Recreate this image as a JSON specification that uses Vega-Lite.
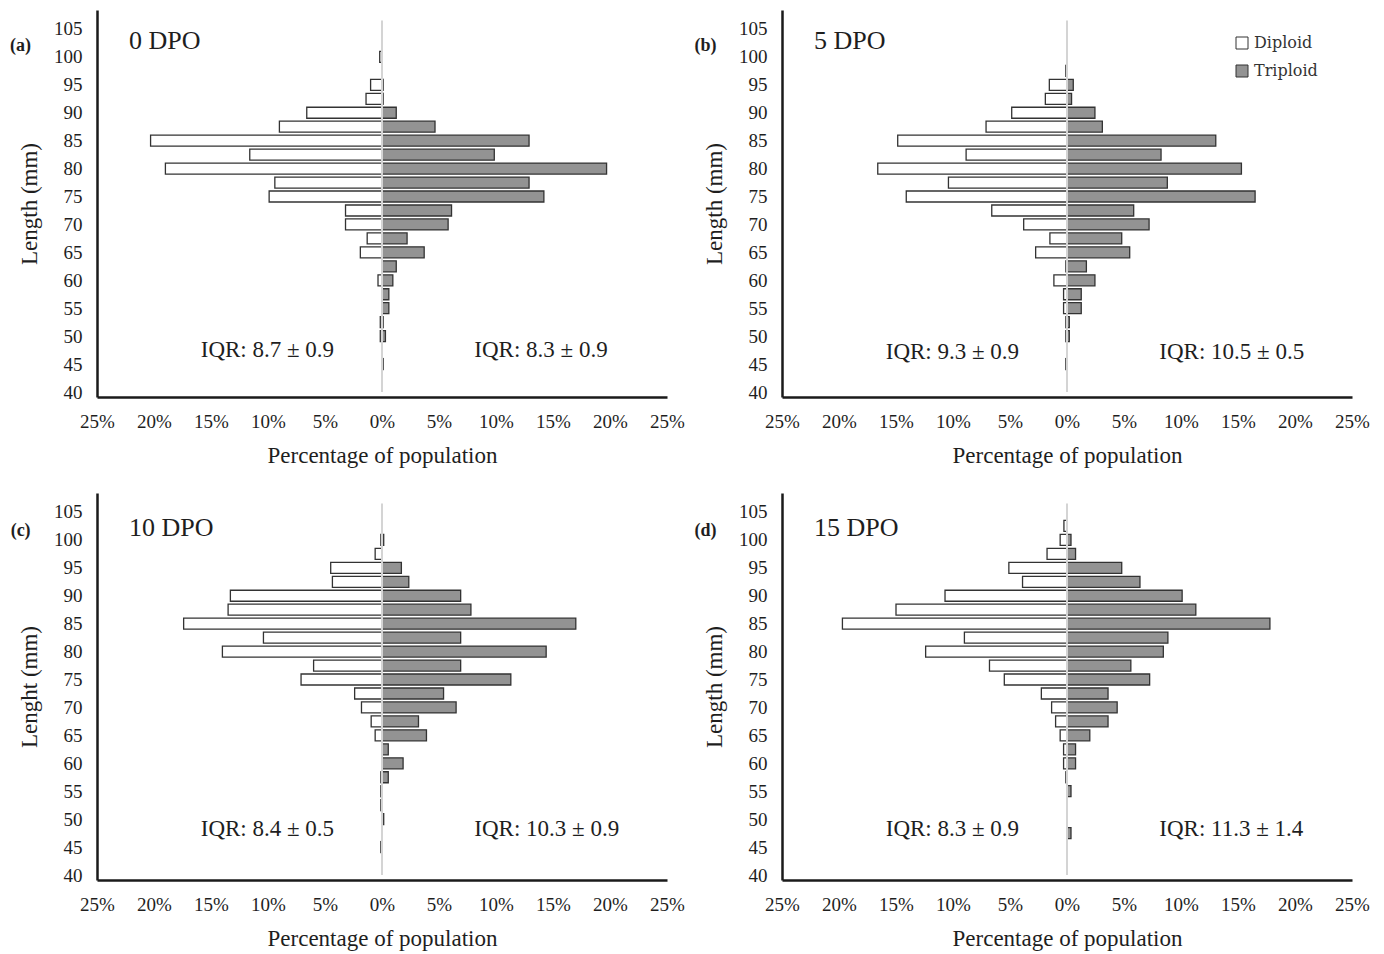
{
  "$schema": "https://vega.github.io/schema/vega-lite/v6.json",
  "background": "white",
  "padding": {"left": 10, "top": 10, "right": 5, "bottom": 5},
  "config": {
    "view": {"stroke": null},
    "font": "Liberation Serif",
    "axis": {
      "labelFont": "Liberation Serif", "labelFontSize": 19, "labelColor": "#1e1e1e",
      "titleFont": "Liberation Serif", "titleFontSize": 23, "titleFontWeight": "normal", "titleColor": "#1e1e1e",
      "domainColor": "#1a1a1a", "domainWidth": 2.5, "ticks": false, "grid": false, "labelFlush": false, "labelOverlap": false
    },
    "text": {"font": "Liberation Serif", "color": "#1e1e1e"}
  },
  "datasets": {
    "bars": [
      {"panel": "0 DPO", "ploidy": "Diploid", "length": 100, "pct": -0.2},
      {"panel": "0 DPO", "ploidy": "Diploid", "length": 95, "pct": -1.0},
      {"panel": "0 DPO", "ploidy": "Diploid", "length": 92.5, "pct": -1.4},
      {"panel": "0 DPO", "ploidy": "Diploid", "length": 90, "pct": -6.6},
      {"panel": "0 DPO", "ploidy": "Diploid", "length": 87.5, "pct": -9.0},
      {"panel": "0 DPO", "ploidy": "Diploid", "length": 85, "pct": -20.3},
      {"panel": "0 DPO", "ploidy": "Diploid", "length": 82.5, "pct": -11.6},
      {"panel": "0 DPO", "ploidy": "Diploid", "length": 80, "pct": -19.0},
      {"panel": "0 DPO", "ploidy": "Diploid", "length": 77.5, "pct": -9.4},
      {"panel": "0 DPO", "ploidy": "Diploid", "length": 75, "pct": -9.9},
      {"panel": "0 DPO", "ploidy": "Diploid", "length": 72.5, "pct": -3.2},
      {"panel": "0 DPO", "ploidy": "Diploid", "length": 70, "pct": -3.2},
      {"panel": "0 DPO", "ploidy": "Diploid", "length": 67.5, "pct": -1.3},
      {"panel": "0 DPO", "ploidy": "Diploid", "length": 65, "pct": -1.9},
      {"panel": "0 DPO", "ploidy": "Diploid", "length": 60, "pct": -0.35},
      {"panel": "0 DPO", "ploidy": "Diploid", "length": 52.5, "pct": -0.15},
      {"panel": "0 DPO", "ploidy": "Diploid", "length": 50, "pct": -0.15},
      {"panel": "0 DPO", "ploidy": "Triploid", "length": 95, "pct": 0.1},
      {"panel": "0 DPO", "ploidy": "Triploid", "length": 92.5, "pct": 0.1},
      {"panel": "0 DPO", "ploidy": "Triploid", "length": 90, "pct": 1.25},
      {"panel": "0 DPO", "ploidy": "Triploid", "length": 87.5, "pct": 4.65},
      {"panel": "0 DPO", "ploidy": "Triploid", "length": 85, "pct": 12.9},
      {"panel": "0 DPO", "ploidy": "Triploid", "length": 82.5, "pct": 9.85},
      {"panel": "0 DPO", "ploidy": "Triploid", "length": 80, "pct": 19.7},
      {"panel": "0 DPO", "ploidy": "Triploid", "length": 77.5, "pct": 12.9},
      {"panel": "0 DPO", "ploidy": "Triploid", "length": 75, "pct": 14.2},
      {"panel": "0 DPO", "ploidy": "Triploid", "length": 72.5, "pct": 6.1},
      {"panel": "0 DPO", "ploidy": "Triploid", "length": 70, "pct": 5.8},
      {"panel": "0 DPO", "ploidy": "Triploid", "length": 67.5, "pct": 2.2},
      {"panel": "0 DPO", "ploidy": "Triploid", "length": 65, "pct": 3.7},
      {"panel": "0 DPO", "ploidy": "Triploid", "length": 62.5, "pct": 1.25},
      {"panel": "0 DPO", "ploidy": "Triploid", "length": 60, "pct": 0.95},
      {"panel": "0 DPO", "ploidy": "Triploid", "length": 57.5, "pct": 0.6},
      {"panel": "0 DPO", "ploidy": "Triploid", "length": 55, "pct": 0.6},
      {"panel": "0 DPO", "ploidy": "Triploid", "length": 52.5, "pct": 0.1},
      {"panel": "0 DPO", "ploidy": "Triploid", "length": 50, "pct": 0.3},
      {"panel": "0 DPO", "ploidy": "Triploid", "length": 45, "pct": 0.1},

      {"panel": "5 DPO", "ploidy": "Diploid", "length": 97.5, "pct": -0.1},
      {"panel": "5 DPO", "ploidy": "Diploid", "length": 95, "pct": -1.55},
      {"panel": "5 DPO", "ploidy": "Diploid", "length": 92.5, "pct": -1.9},
      {"panel": "5 DPO", "ploidy": "Diploid", "length": 90, "pct": -4.85},
      {"panel": "5 DPO", "ploidy": "Diploid", "length": 87.5, "pct": -7.1},
      {"panel": "5 DPO", "ploidy": "Diploid", "length": 85, "pct": -14.85},
      {"panel": "5 DPO", "ploidy": "Diploid", "length": 82.5, "pct": -8.85},
      {"panel": "5 DPO", "ploidy": "Diploid", "length": 80, "pct": -16.6},
      {"panel": "5 DPO", "ploidy": "Diploid", "length": 77.5, "pct": -10.4},
      {"panel": "5 DPO", "ploidy": "Diploid", "length": 75, "pct": -14.1},
      {"panel": "5 DPO", "ploidy": "Diploid", "length": 72.5, "pct": -6.6},
      {"panel": "5 DPO", "ploidy": "Diploid", "length": 70, "pct": -3.8},
      {"panel": "5 DPO", "ploidy": "Diploid", "length": 67.5, "pct": -1.5},
      {"panel": "5 DPO", "ploidy": "Diploid", "length": 65, "pct": -2.75},
      {"panel": "5 DPO", "ploidy": "Diploid", "length": 62.5, "pct": -0.1},
      {"panel": "5 DPO", "ploidy": "Diploid", "length": 60, "pct": -1.15},
      {"panel": "5 DPO", "ploidy": "Diploid", "length": 57.5, "pct": -0.3},
      {"panel": "5 DPO", "ploidy": "Diploid", "length": 55, "pct": -0.3},
      {"panel": "5 DPO", "ploidy": "Diploid", "length": 52.5, "pct": -0.1},
      {"panel": "5 DPO", "ploidy": "Diploid", "length": 50, "pct": -0.1},
      {"panel": "5 DPO", "ploidy": "Diploid", "length": 45, "pct": -0.1},
      {"panel": "5 DPO", "ploidy": "Triploid", "length": 95, "pct": 0.55},
      {"panel": "5 DPO", "ploidy": "Triploid", "length": 92.5, "pct": 0.4},
      {"panel": "5 DPO", "ploidy": "Triploid", "length": 90, "pct": 2.45},
      {"panel": "5 DPO", "ploidy": "Triploid", "length": 87.5, "pct": 3.1},
      {"panel": "5 DPO", "ploidy": "Triploid", "length": 85, "pct": 13.05},
      {"panel": "5 DPO", "ploidy": "Triploid", "length": 82.5, "pct": 8.25},
      {"panel": "5 DPO", "ploidy": "Triploid", "length": 80, "pct": 15.3},
      {"panel": "5 DPO", "ploidy": "Triploid", "length": 77.5, "pct": 8.8},
      {"panel": "5 DPO", "ploidy": "Triploid", "length": 75, "pct": 16.5},
      {"panel": "5 DPO", "ploidy": "Triploid", "length": 72.5, "pct": 5.85},
      {"panel": "5 DPO", "ploidy": "Triploid", "length": 70, "pct": 7.2},
      {"panel": "5 DPO", "ploidy": "Triploid", "length": 67.5, "pct": 4.8},
      {"panel": "5 DPO", "ploidy": "Triploid", "length": 65, "pct": 5.5},
      {"panel": "5 DPO", "ploidy": "Triploid", "length": 62.5, "pct": 1.7},
      {"panel": "5 DPO", "ploidy": "Triploid", "length": 60, "pct": 2.45},
      {"panel": "5 DPO", "ploidy": "Triploid", "length": 57.5, "pct": 1.25},
      {"panel": "5 DPO", "ploidy": "Triploid", "length": 55, "pct": 1.25},
      {"panel": "5 DPO", "ploidy": "Triploid", "length": 52.5, "pct": 0.2},
      {"panel": "5 DPO", "ploidy": "Triploid", "length": 50, "pct": 0.2},

      {"panel": "10 DPO", "ploidy": "Diploid", "length": 100, "pct": -0.1},
      {"panel": "10 DPO", "ploidy": "Diploid", "length": 97.5, "pct": -0.6},
      {"panel": "10 DPO", "ploidy": "Diploid", "length": 95, "pct": -4.5},
      {"panel": "10 DPO", "ploidy": "Diploid", "length": 92.5, "pct": -4.35},
      {"panel": "10 DPO", "ploidy": "Diploid", "length": 90, "pct": -13.3},
      {"panel": "10 DPO", "ploidy": "Diploid", "length": 87.5, "pct": -13.5},
      {"panel": "10 DPO", "ploidy": "Diploid", "length": 85, "pct": -17.4},
      {"panel": "10 DPO", "ploidy": "Diploid", "length": 82.5, "pct": -10.4},
      {"panel": "10 DPO", "ploidy": "Diploid", "length": 80, "pct": -14.0},
      {"panel": "10 DPO", "ploidy": "Diploid", "length": 77.5, "pct": -6.0},
      {"panel": "10 DPO", "ploidy": "Diploid", "length": 75, "pct": -7.1},
      {"panel": "10 DPO", "ploidy": "Diploid", "length": 72.5, "pct": -2.4},
      {"panel": "10 DPO", "ploidy": "Diploid", "length": 70, "pct": -1.8},
      {"panel": "10 DPO", "ploidy": "Diploid", "length": 67.5, "pct": -0.95},
      {"panel": "10 DPO", "ploidy": "Diploid", "length": 65, "pct": -0.6},
      {"panel": "10 DPO", "ploidy": "Diploid", "length": 57.5, "pct": -0.1},
      {"panel": "10 DPO", "ploidy": "Diploid", "length": 55, "pct": -0.1},
      {"panel": "10 DPO", "ploidy": "Diploid", "length": 52.5, "pct": -0.1},
      {"panel": "10 DPO", "ploidy": "Diploid", "length": 45, "pct": -0.1},
      {"panel": "10 DPO", "ploidy": "Triploid", "length": 100, "pct": 0.15},
      {"panel": "10 DPO", "ploidy": "Triploid", "length": 95, "pct": 1.7},
      {"panel": "10 DPO", "ploidy": "Triploid", "length": 92.5, "pct": 2.35},
      {"panel": "10 DPO", "ploidy": "Triploid", "length": 90, "pct": 6.9},
      {"panel": "10 DPO", "ploidy": "Triploid", "length": 87.5, "pct": 7.8},
      {"panel": "10 DPO", "ploidy": "Triploid", "length": 85, "pct": 17.0},
      {"panel": "10 DPO", "ploidy": "Triploid", "length": 82.5, "pct": 6.9},
      {"panel": "10 DPO", "ploidy": "Triploid", "length": 80, "pct": 14.4},
      {"panel": "10 DPO", "ploidy": "Triploid", "length": 77.5, "pct": 6.9},
      {"panel": "10 DPO", "ploidy": "Triploid", "length": 75, "pct": 11.3},
      {"panel": "10 DPO", "ploidy": "Triploid", "length": 72.5, "pct": 5.4},
      {"panel": "10 DPO", "ploidy": "Triploid", "length": 70, "pct": 6.5},
      {"panel": "10 DPO", "ploidy": "Triploid", "length": 67.5, "pct": 3.2},
      {"panel": "10 DPO", "ploidy": "Triploid", "length": 65, "pct": 3.9},
      {"panel": "10 DPO", "ploidy": "Triploid", "length": 62.5, "pct": 0.55},
      {"panel": "10 DPO", "ploidy": "Triploid", "length": 60, "pct": 1.85},
      {"panel": "10 DPO", "ploidy": "Triploid", "length": 57.5, "pct": 0.55},
      {"panel": "10 DPO", "ploidy": "Triploid", "length": 50, "pct": 0.15},

      {"panel": "15 DPO", "ploidy": "Diploid", "length": 102.5, "pct": -0.27},
      {"panel": "15 DPO", "ploidy": "Diploid", "length": 100, "pct": -0.6},
      {"panel": "15 DPO", "ploidy": "Diploid", "length": 97.5, "pct": -1.75},
      {"panel": "15 DPO", "ploidy": "Diploid", "length": 95, "pct": -5.1},
      {"panel": "15 DPO", "ploidy": "Diploid", "length": 92.5, "pct": -3.9},
      {"panel": "15 DPO", "ploidy": "Diploid", "length": 90, "pct": -10.7},
      {"panel": "15 DPO", "ploidy": "Diploid", "length": 87.5, "pct": -15.0},
      {"panel": "15 DPO", "ploidy": "Diploid", "length": 85, "pct": -19.7},
      {"panel": "15 DPO", "ploidy": "Diploid", "length": 82.5, "pct": -9.0},
      {"panel": "15 DPO", "ploidy": "Diploid", "length": 80, "pct": -12.4},
      {"panel": "15 DPO", "ploidy": "Diploid", "length": 77.5, "pct": -6.8},
      {"panel": "15 DPO", "ploidy": "Diploid", "length": 75, "pct": -5.5},
      {"panel": "15 DPO", "ploidy": "Diploid", "length": 72.5, "pct": -2.25},
      {"panel": "15 DPO", "ploidy": "Diploid", "length": 70, "pct": -1.35},
      {"panel": "15 DPO", "ploidy": "Diploid", "length": 67.5, "pct": -1.0},
      {"panel": "15 DPO", "ploidy": "Diploid", "length": 65, "pct": -0.6},
      {"panel": "15 DPO", "ploidy": "Diploid", "length": 62.5, "pct": -0.3},
      {"panel": "15 DPO", "ploidy": "Diploid", "length": 60, "pct": -0.3},
      {"panel": "15 DPO", "ploidy": "Diploid", "length": 57.5, "pct": -0.1},
      {"panel": "15 DPO", "ploidy": "Triploid", "length": 100, "pct": 0.35},
      {"panel": "15 DPO", "ploidy": "Triploid", "length": 97.5, "pct": 0.75},
      {"panel": "15 DPO", "ploidy": "Triploid", "length": 95, "pct": 4.8},
      {"panel": "15 DPO", "ploidy": "Triploid", "length": 92.5, "pct": 6.4},
      {"panel": "15 DPO", "ploidy": "Triploid", "length": 90, "pct": 10.1},
      {"panel": "15 DPO", "ploidy": "Triploid", "length": 87.5, "pct": 11.3},
      {"panel": "15 DPO", "ploidy": "Triploid", "length": 85, "pct": 17.8},
      {"panel": "15 DPO", "ploidy": "Triploid", "length": 82.5, "pct": 8.85},
      {"panel": "15 DPO", "ploidy": "Triploid", "length": 80, "pct": 8.45},
      {"panel": "15 DPO", "ploidy": "Triploid", "length": 77.5, "pct": 5.6},
      {"panel": "15 DPO", "ploidy": "Triploid", "length": 75, "pct": 7.25},
      {"panel": "15 DPO", "ploidy": "Triploid", "length": 72.5, "pct": 3.6},
      {"panel": "15 DPO", "ploidy": "Triploid", "length": 70, "pct": 4.4},
      {"panel": "15 DPO", "ploidy": "Triploid", "length": 67.5, "pct": 3.6},
      {"panel": "15 DPO", "ploidy": "Triploid", "length": 65, "pct": 2.0},
      {"panel": "15 DPO", "ploidy": "Triploid", "length": 62.5, "pct": 0.75},
      {"panel": "15 DPO", "ploidy": "Triploid", "length": 60, "pct": 0.75},
      {"panel": "15 DPO", "ploidy": "Triploid", "length": 55, "pct": 0.35},
      {"panel": "15 DPO", "ploidy": "Triploid", "length": 47.5, "pct": 0.35}
    ]
  },
  "columns": 2,
  "spacing": {"row": 96, "column": 115},
  "bounds": "flush",
  "resolve": {"scale": {"color": "independent", "x": "independent", "y": "independent"}, "legend": {"color": "independent"}},
  "concat": [
    {
      "width": 570, "height": 387,
      "layer": [
        {
          "data": {"name": "bars"},
          "transform": [{"filter": "datum.panel == '0 DPO'"}],
          "mark": {"type": "bar", "orient": "horizontal", "height": 11, "stroke": "#333333", "strokeWidth": 1.3},
          "encoding": {
            "x": {"field": "pct", "type": "quantitative", "scale": {"domain": [-25, 25]}, "axis": {"values": [-25, -20, -15, -10, -5, 0, 5, 10, 15, 20, 25], "labelExpr": "abs(datum.value) + '%'", "title": "Percentage of population", "labelPadding": 15, "titlePadding": 13, "labelOverlap": false}},
            "y": {"field": "length", "type": "quantitative", "scale": {"domain": [40, 107.5]}, "axis": {"values": [40, 45, 50, 55, 60, 65, 70, 75, 80, 85, 90, 95, 100, 105], "title": "Length (mm)", "labelPadding": 15, "titlePadding": 12, "labelOverlap": false}},
            "color": {"field": "ploidy", "type": "nominal", "scale": {"domain": ["Diploid", "Triploid"], "range": ["#ffffff", "#939393"]}, "legend": null}
          }
        },
        {"data": {"values": [{}]}, "mark": {"type": "rule", "color": "#d4d4d4", "strokeWidth": 2},
         "encoding": {
           "x": {"datum": 0, "type": "quantitative", "scale": {"domain": [-25, 25]}, "axis": {"values": [-25, -20, -15, -10, -5, 0, 5, 10, 15, 20, 25], "labelExpr": "abs(datum.value) + '%'", "title": "Percentage of population", "labelPadding": 15, "titlePadding": 13, "labelOverlap": false}},
           "y": {"datum": 40, "type": "quantitative", "scale": {"domain": [40, 107.5]}, "axis": {"values": [40, 45, 50, 55, 60, 65, 70, 75, 80, 85, 90, 95, 100, 105], "title": "Length (mm)", "labelPadding": 15, "titlePadding": 12, "labelOverlap": false}},
           "y2": {"datum": 106.5}}},
        {"data": {"values": [{}]}, "mark": {"type": "text", "text": "0 DPO", "fontSize": 26, "align": "left", "baseline": "middle"},
         "encoding": {
           "x": {"datum": -22.2, "type": "quantitative", "scale": {"domain": [-25, 25]}, "axis": {"values": [-25, -20, -15, -10, -5, 0, 5, 10, 15, 20, 25], "labelExpr": "abs(datum.value) + '%'", "title": "Percentage of population", "labelPadding": 15, "titlePadding": 13, "labelOverlap": false}},
           "y": {"datum": 102.8, "type": "quantitative", "scale": {"domain": [40, 107.5]}, "axis": {"values": [40, 45, 50, 55, 60, 65, 70, 75, 80, 85, 90, 95, 100, 105], "title": "Length (mm)", "labelPadding": 15, "titlePadding": 12, "labelOverlap": false}}}},
        {"data": {"values": [{}]}, "mark": {"type": "text", "text": "IQR: 8.7 ± 0.9", "fontSize": 23, "align": "left", "baseline": "middle"},
         "encoding": {
           "x": {"datum": -15.9, "type": "quantitative", "scale": {"domain": [-25, 25]}, "axis": {"values": [-25, -20, -15, -10, -5, 0, 5, 10, 15, 20, 25], "labelExpr": "abs(datum.value) + '%'", "title": "Percentage of population", "labelPadding": 15, "titlePadding": 13, "labelOverlap": false}},
           "y": {"datum": 47.5, "type": "quantitative", "scale": {"domain": [40, 107.5]}, "axis": {"values": [40, 45, 50, 55, 60, 65, 70, 75, 80, 85, 90, 95, 100, 105], "title": "Length (mm)", "labelPadding": 15, "titlePadding": 12, "labelOverlap": false}}}},
        {"data": {"values": [{}]}, "mark": {"type": "text", "text": "IQR: 8.3 ± 0.9", "fontSize": 23, "align": "left", "baseline": "middle"},
         "encoding": {
           "x": {"datum": 8.1, "type": "quantitative", "scale": {"domain": [-25, 25]}, "axis": {"values": [-25, -20, -15, -10, -5, 0, 5, 10, 15, 20, 25], "labelExpr": "abs(datum.value) + '%'", "title": "Percentage of population", "labelPadding": 15, "titlePadding": 13, "labelOverlap": false}},
           "y": {"datum": 47.5, "type": "quantitative", "scale": {"domain": [40, 107.5]}, "axis": {"values": [40, 45, 50, 55, 60, 65, 70, 75, 80, 85, 90, 95, 100, 105], "title": "Length (mm)", "labelPadding": 15, "titlePadding": 12, "labelOverlap": false}}}},
        {"data": {"values": [{}]}, "mark": {"type": "text", "text": "(a)", "fontSize": 18, "fontWeight": "bold", "align": "center", "baseline": "middle"},
         "encoding": {
           "x": {"datum": -31.7, "type": "quantitative", "scale": {"domain": [-25, 25]}, "axis": {"values": [-25, -20, -15, -10, -5, 0, 5, 10, 15, 20, 25], "labelExpr": "abs(datum.value) + '%'", "title": "Percentage of population", "labelPadding": 15, "titlePadding": 13, "labelOverlap": false}},
           "y": {"datum": 101.9, "type": "quantitative", "scale": {"domain": [40, 107.5]}, "axis": {"values": [40, 45, 50, 55, 60, 65, 70, 75, 80, 85, 90, 95, 100, 105], "title": "Length (mm)", "labelPadding": 15, "titlePadding": 12, "labelOverlap": false}}}}
      ]
    },
    {
      "width": 570, "height": 387,
      "layer": [
        {
          "data": {"name": "bars"},
          "transform": [{"filter": "datum.panel == '5 DPO'"}],
          "mark": {"type": "bar", "orient": "horizontal", "height": 11, "stroke": "#333333", "strokeWidth": 1.3},
          "encoding": {
            "x": {"field": "pct", "type": "quantitative", "scale": {"domain": [-25, 25]}, "axis": {"values": [-25, -20, -15, -10, -5, 0, 5, 10, 15, 20, 25], "labelExpr": "abs(datum.value) + '%'", "title": "Percentage of population", "labelPadding": 15, "titlePadding": 13, "labelOverlap": false}},
            "y": {"field": "length", "type": "quantitative", "scale": {"domain": [40, 107.5]}, "axis": {"values": [40, 45, 50, 55, 60, 65, 70, 75, 80, 85, 90, 95, 100, 105], "title": "Length (mm)", "labelPadding": 15, "titlePadding": 12, "labelOverlap": false}},
            "color": {"field": "ploidy", "type": "nominal", "scale": {"domain": ["Diploid", "Triploid"], "range": ["#ffffff", "#939393"]},
              "legend": {"orient": "none", "legendX": 452, "legendY": 25, "title": null, "symbolType": "square", "symbolSize": 144, "symbolStrokeColor": "#333333", "symbolStrokeWidth": 1, "labelFont": "DejaVu Serif", "labelFontSize": 16, "labelColor": "#333333", "rowPadding": 12, "labelOffset": 4}}
          }
        },
        {"data": {"values": [{}]}, "mark": {"type": "rule", "color": "#d4d4d4", "strokeWidth": 2},
         "encoding": {
           "x": {"datum": 0, "type": "quantitative", "scale": {"domain": [-25, 25]}, "axis": {"values": [-25, -20, -15, -10, -5, 0, 5, 10, 15, 20, 25], "labelExpr": "abs(datum.value) + '%'", "title": "Percentage of population", "labelPadding": 15, "titlePadding": 13, "labelOverlap": false}},
           "y": {"datum": 40, "type": "quantitative", "scale": {"domain": [40, 107.5]}, "axis": {"values": [40, 45, 50, 55, 60, 65, 70, 75, 80, 85, 90, 95, 100, 105], "title": "Length (mm)", "labelPadding": 15, "titlePadding": 12, "labelOverlap": false}},
           "y2": {"datum": 106.5}}},
        {"data": {"values": [{}]}, "mark": {"type": "text", "text": "5 DPO", "fontSize": 26, "align": "left", "baseline": "middle"},
         "encoding": {
           "x": {"datum": -22.2, "type": "quantitative", "scale": {"domain": [-25, 25]}, "axis": {"values": [-25, -20, -15, -10, -5, 0, 5, 10, 15, 20, 25], "labelExpr": "abs(datum.value) + '%'", "title": "Percentage of population", "labelPadding": 15, "titlePadding": 13, "labelOverlap": false}},
           "y": {"datum": 102.8, "type": "quantitative", "scale": {"domain": [40, 107.5]}, "axis": {"values": [40, 45, 50, 55, 60, 65, 70, 75, 80, 85, 90, 95, 100, 105], "title": "Length (mm)", "labelPadding": 15, "titlePadding": 12, "labelOverlap": false}}}},
        {"data": {"values": [{}]}, "mark": {"type": "text", "text": "IQR: 9.3 ± 0.9", "fontSize": 23, "align": "left", "baseline": "middle"},
         "encoding": {
           "x": {"datum": -15.9, "type": "quantitative", "scale": {"domain": [-25, 25]}, "axis": {"values": [-25, -20, -15, -10, -5, 0, 5, 10, 15, 20, 25], "labelExpr": "abs(datum.value) + '%'", "title": "Percentage of population", "labelPadding": 15, "titlePadding": 13, "labelOverlap": false}},
           "y": {"datum": 47.2, "type": "quantitative", "scale": {"domain": [40, 107.5]}, "axis": {"values": [40, 45, 50, 55, 60, 65, 70, 75, 80, 85, 90, 95, 100, 105], "title": "Length (mm)", "labelPadding": 15, "titlePadding": 12, "labelOverlap": false}}}},
        {"data": {"values": [{}]}, "mark": {"type": "text", "text": "IQR: 10.5 ± 0.5", "fontSize": 23, "align": "left", "baseline": "middle"},
         "encoding": {
           "x": {"datum": 8.1, "type": "quantitative", "scale": {"domain": [-25, 25]}, "axis": {"values": [-25, -20, -15, -10, -5, 0, 5, 10, 15, 20, 25], "labelExpr": "abs(datum.value) + '%'", "title": "Percentage of population", "labelPadding": 15, "titlePadding": 13, "labelOverlap": false}},
           "y": {"datum": 47.2, "type": "quantitative", "scale": {"domain": [40, 107.5]}, "axis": {"values": [40, 45, 50, 55, 60, 65, 70, 75, 80, 85, 90, 95, 100, 105], "title": "Length (mm)", "labelPadding": 15, "titlePadding": 12, "labelOverlap": false}}}},
        {"data": {"values": [{}]}, "mark": {"type": "text", "text": "(b)", "fontSize": 18, "fontWeight": "bold", "align": "center", "baseline": "middle"},
         "encoding": {
           "x": {"datum": -31.7, "type": "quantitative", "scale": {"domain": [-25, 25]}, "axis": {"values": [-25, -20, -15, -10, -5, 0, 5, 10, 15, 20, 25], "labelExpr": "abs(datum.value) + '%'", "title": "Percentage of population", "labelPadding": 15, "titlePadding": 13, "labelOverlap": false}},
           "y": {"datum": 101.9, "type": "quantitative", "scale": {"domain": [40, 107.5]}, "axis": {"values": [40, 45, 50, 55, 60, 65, 70, 75, 80, 85, 90, 95, 100, 105], "title": "Length (mm)", "labelPadding": 15, "titlePadding": 12, "labelOverlap": false}}}}
      ]
    },
    {
      "width": 570, "height": 387,
      "layer": [
        {
          "data": {"name": "bars"},
          "transform": [{"filter": "datum.panel == '10 DPO'"}],
          "mark": {"type": "bar", "orient": "horizontal", "height": 11, "stroke": "#333333", "strokeWidth": 1.3},
          "encoding": {
            "x": {"field": "pct", "type": "quantitative", "scale": {"domain": [-25, 25]}, "axis": {"values": [-25, -20, -15, -10, -5, 0, 5, 10, 15, 20, 25], "labelExpr": "abs(datum.value) + '%'", "title": "Percentage of population", "labelPadding": 15, "titlePadding": 13, "labelOverlap": false}},
            "y": {"field": "length", "type": "quantitative", "scale": {"domain": [40, 107.5]}, "axis": {"values": [40, 45, 50, 55, 60, 65, 70, 75, 80, 85, 90, 95, 100, 105], "title": "Lenght (mm)", "labelPadding": 15, "titlePadding": 12, "labelOverlap": false}},
            "color": {"field": "ploidy", "type": "nominal", "scale": {"domain": ["Diploid", "Triploid"], "range": ["#ffffff", "#939393"]}, "legend": null}
          }
        },
        {"data": {"values": [{}]}, "mark": {"type": "rule", "color": "#d4d4d4", "strokeWidth": 2},
         "encoding": {
           "x": {"datum": 0, "type": "quantitative", "scale": {"domain": [-25, 25]}, "axis": {"values": [-25, -20, -15, -10, -5, 0, 5, 10, 15, 20, 25], "labelExpr": "abs(datum.value) + '%'", "title": "Percentage of population", "labelPadding": 15, "titlePadding": 13, "labelOverlap": false}},
           "y": {"datum": 40, "type": "quantitative", "scale": {"domain": [40, 107.5]}, "axis": {"values": [40, 45, 50, 55, 60, 65, 70, 75, 80, 85, 90, 95, 100, 105], "title": "Lenght (mm)", "labelPadding": 15, "titlePadding": 12, "labelOverlap": false}},
           "y2": {"datum": 106.5}}},
        {"data": {"values": [{}]}, "mark": {"type": "text", "text": "10 DPO", "fontSize": 26, "align": "left", "baseline": "middle"},
         "encoding": {
           "x": {"datum": -22.2, "type": "quantitative", "scale": {"domain": [-25, 25]}, "axis": {"values": [-25, -20, -15, -10, -5, 0, 5, 10, 15, 20, 25], "labelExpr": "abs(datum.value) + '%'", "title": "Percentage of population", "labelPadding": 15, "titlePadding": 13, "labelOverlap": false}},
           "y": {"datum": 102.1, "type": "quantitative", "scale": {"domain": [40, 107.5]}, "axis": {"values": [40, 45, 50, 55, 60, 65, 70, 75, 80, 85, 90, 95, 100, 105], "title": "Lenght (mm)", "labelPadding": 15, "titlePadding": 12, "labelOverlap": false}}}},
        {"data": {"values": [{}]}, "mark": {"type": "text", "text": "IQR: 8.4 ± 0.5", "fontSize": 23, "align": "left", "baseline": "middle"},
         "encoding": {
           "x": {"datum": -15.9, "type": "quantitative", "scale": {"domain": [-25, 25]}, "axis": {"values": [-25, -20, -15, -10, -5, 0, 5, 10, 15, 20, 25], "labelExpr": "abs(datum.value) + '%'", "title": "Percentage of population", "labelPadding": 15, "titlePadding": 13, "labelOverlap": false}},
           "y": {"datum": 48.2, "type": "quantitative", "scale": {"domain": [40, 107.5]}, "axis": {"values": [40, 45, 50, 55, 60, 65, 70, 75, 80, 85, 90, 95, 100, 105], "title": "Lenght (mm)", "labelPadding": 15, "titlePadding": 12, "labelOverlap": false}}}},
        {"data": {"values": [{}]}, "mark": {"type": "text", "text": "IQR: 10.3 ± 0.9", "fontSize": 23, "align": "left", "baseline": "middle"},
         "encoding": {
           "x": {"datum": 8.1, "type": "quantitative", "scale": {"domain": [-25, 25]}, "axis": {"values": [-25, -20, -15, -10, -5, 0, 5, 10, 15, 20, 25], "labelExpr": "abs(datum.value) + '%'", "title": "Percentage of population", "labelPadding": 15, "titlePadding": 13, "labelOverlap": false}},
           "y": {"datum": 48.2, "type": "quantitative", "scale": {"domain": [40, 107.5]}, "axis": {"values": [40, 45, 50, 55, 60, 65, 70, 75, 80, 85, 90, 95, 100, 105], "title": "Lenght (mm)", "labelPadding": 15, "titlePadding": 12, "labelOverlap": false}}}},
        {"data": {"values": [{}]}, "mark": {"type": "text", "text": "(c)", "fontSize": 18, "fontWeight": "bold", "align": "center", "baseline": "middle"},
         "encoding": {
           "x": {"datum": -31.7, "type": "quantitative", "scale": {"domain": [-25, 25]}, "axis": {"values": [-25, -20, -15, -10, -5, 0, 5, 10, 15, 20, 25], "labelExpr": "abs(datum.value) + '%'", "title": "Percentage of population", "labelPadding": 15, "titlePadding": 13, "labelOverlap": false}},
           "y": {"datum": 101.6, "type": "quantitative", "scale": {"domain": [40, 107.5]}, "axis": {"values": [40, 45, 50, 55, 60, 65, 70, 75, 80, 85, 90, 95, 100, 105], "title": "Lenght (mm)", "labelPadding": 15, "titlePadding": 12, "labelOverlap": false}}}}
      ]
    },
    {
      "width": 570, "height": 387,
      "layer": [
        {
          "data": {"name": "bars"},
          "transform": [{"filter": "datum.panel == '15 DPO'"}],
          "mark": {"type": "bar", "orient": "horizontal", "height": 11, "stroke": "#333333", "strokeWidth": 1.3},
          "encoding": {
            "x": {"field": "pct", "type": "quantitative", "scale": {"domain": [-25, 25]}, "axis": {"values": [-25, -20, -15, -10, -5, 0, 5, 10, 15, 20, 25], "labelExpr": "abs(datum.value) + '%'", "title": "Percentage of population", "labelPadding": 15, "titlePadding": 13, "labelOverlap": false}},
            "y": {"field": "length", "type": "quantitative", "scale": {"domain": [40, 107.5]}, "axis": {"values": [40, 45, 50, 55, 60, 65, 70, 75, 80, 85, 90, 95, 100, 105], "title": "Length (mm)", "labelPadding": 15, "titlePadding": 12, "labelOverlap": false}},
            "color": {"field": "ploidy", "type": "nominal", "scale": {"domain": ["Diploid", "Triploid"], "range": ["#ffffff", "#939393"]}, "legend": null}
          }
        },
        {"data": {"values": [{}]}, "mark": {"type": "rule", "color": "#d4d4d4", "strokeWidth": 2},
         "encoding": {
           "x": {"datum": 0, "type": "quantitative", "scale": {"domain": [-25, 25]}, "axis": {"values": [-25, -20, -15, -10, -5, 0, 5, 10, 15, 20, 25], "labelExpr": "abs(datum.value) + '%'", "title": "Percentage of population", "labelPadding": 15, "titlePadding": 13, "labelOverlap": false}},
           "y": {"datum": 40, "type": "quantitative", "scale": {"domain": [40, 107.5]}, "axis": {"values": [40, 45, 50, 55, 60, 65, 70, 75, 80, 85, 90, 95, 100, 105], "title": "Length (mm)", "labelPadding": 15, "titlePadding": 12, "labelOverlap": false}},
           "y2": {"datum": 106.5}}},
        {"data": {"values": [{}]}, "mark": {"type": "text", "text": "15 DPO", "fontSize": 26, "align": "left", "baseline": "middle"},
         "encoding": {
           "x": {"datum": -22.2, "type": "quantitative", "scale": {"domain": [-25, 25]}, "axis": {"values": [-25, -20, -15, -10, -5, 0, 5, 10, 15, 20, 25], "labelExpr": "abs(datum.value) + '%'", "title": "Percentage of population", "labelPadding": 15, "titlePadding": 13, "labelOverlap": false}},
           "y": {"datum": 102.1, "type": "quantitative", "scale": {"domain": [40, 107.5]}, "axis": {"values": [40, 45, 50, 55, 60, 65, 70, 75, 80, 85, 90, 95, 100, 105], "title": "Length (mm)", "labelPadding": 15, "titlePadding": 12, "labelOverlap": false}}}},
        {"data": {"values": [{}]}, "mark": {"type": "text", "text": "IQR: 8.3 ± 0.9", "fontSize": 23, "align": "left", "baseline": "middle"},
         "encoding": {
           "x": {"datum": -15.9, "type": "quantitative", "scale": {"domain": [-25, 25]}, "axis": {"values": [-25, -20, -15, -10, -5, 0, 5, 10, 15, 20, 25], "labelExpr": "abs(datum.value) + '%'", "title": "Percentage of population", "labelPadding": 15, "titlePadding": 13, "labelOverlap": false}},
           "y": {"datum": 48.3, "type": "quantitative", "scale": {"domain": [40, 107.5]}, "axis": {"values": [40, 45, 50, 55, 60, 65, 70, 75, 80, 85, 90, 95, 100, 105], "title": "Length (mm)", "labelPadding": 15, "titlePadding": 12, "labelOverlap": false}}}},
        {"data": {"values": [{}]}, "mark": {"type": "text", "text": "IQR: 11.3 ± 1.4", "fontSize": 23, "align": "left", "baseline": "middle"},
         "encoding": {
           "x": {"datum": 8.1, "type": "quantitative", "scale": {"domain": [-25, 25]}, "axis": {"values": [-25, -20, -15, -10, -5, 0, 5, 10, 15, 20, 25], "labelExpr": "abs(datum.value) + '%'", "title": "Percentage of population", "labelPadding": 15, "titlePadding": 13, "labelOverlap": false}},
           "y": {"datum": 48.3, "type": "quantitative", "scale": {"domain": [40, 107.5]}, "axis": {"values": [40, 45, 50, 55, 60, 65, 70, 75, 80, 85, 90, 95, 100, 105], "title": "Length (mm)", "labelPadding": 15, "titlePadding": 12, "labelOverlap": false}}}},
        {"data": {"values": [{}]}, "mark": {"type": "text", "text": "(d)", "fontSize": 18, "fontWeight": "bold", "align": "center", "baseline": "middle"},
         "encoding": {
           "x": {"datum": -31.7, "type": "quantitative", "scale": {"domain": [-25, 25]}, "axis": {"values": [-25, -20, -15, -10, -5, 0, 5, 10, 15, 20, 25], "labelExpr": "abs(datum.value) + '%'", "title": "Percentage of population", "labelPadding": 15, "titlePadding": 13, "labelOverlap": false}},
           "y": {"datum": 101.6, "type": "quantitative", "scale": {"domain": [40, 107.5]}, "axis": {"values": [40, 45, 50, 55, 60, 65, 70, 75, 80, 85, 90, 95, 100, 105], "title": "Length (mm)", "labelPadding": 15, "titlePadding": 12, "labelOverlap": false}}}}
      ]
    }
  ]
}
